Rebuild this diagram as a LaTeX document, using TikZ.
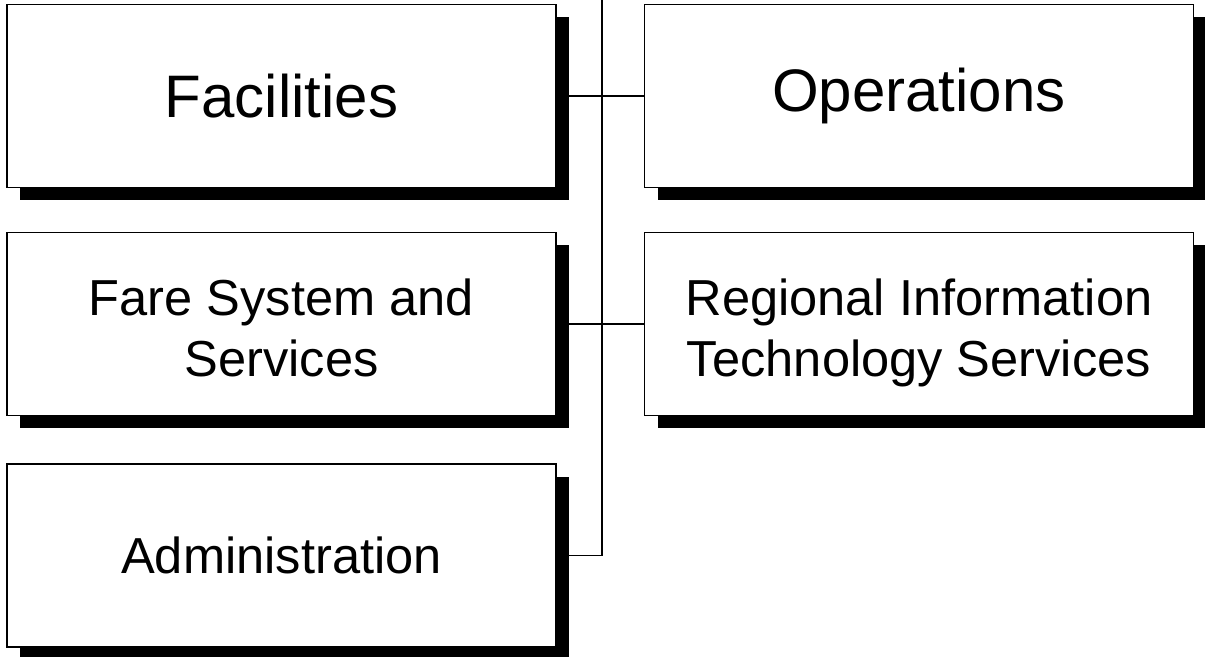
\documentclass[tikz,border=0pt]{standalone}
\usepackage{fontspec}
\setmainfont{Liberation Sans}
\usetikzlibrary{shadows}
\newcommand{\upstrut}{\rule{0pt}{28pt}}
\newcommand{\downstrut}{\rule[-6pt]{0pt}{6pt}}

\begin{document}
\begin{tikzpicture}[x=0.5pt,y=-0.5pt,
  unit/.style={draw,line width=0.8pt,fill=white,align=center,inner sep=0pt,
    minimum width=274.5pt,minimum height=91.5pt,
    drop shadow={fill=black,opacity=1,shadow xshift=6.5pt,shadow yshift=-6.5pt}},
  bigtext/.style={font=\fontsize{30}{29}\selectfont},
  smalltext/.style={font=\fontsize{25.3}{30.5}\selectfont},
  link/.style={line width=0.7pt}]
\useasboundingbox (0,0) rectangle (1205,657);
\node[unit,bigtext] (fac) at (281.5,96) {Facilities};
\node[unit,bigtext] (ops) at (919,96) {Operations};
\node[unit,smalltext] (fare) at (281.5,324) {\upstrut Fare System and\\Services\downstrut};
\node[unit,smalltext] (rits) at (919,324) {\upstrut Regional Information\\Technology Services\downstrut};
\node[unit,smalltext] (adm) at (281.5,555.5) {Administration};
% spine
\coordinate (spine) at (602,0);
\draw[link] (spine) |- (adm.east);
\draw[link] (fac.east) -- (ops.west);
\draw[link] (fare.east) -- (rits.west);
\end{tikzpicture}
\end{document}
